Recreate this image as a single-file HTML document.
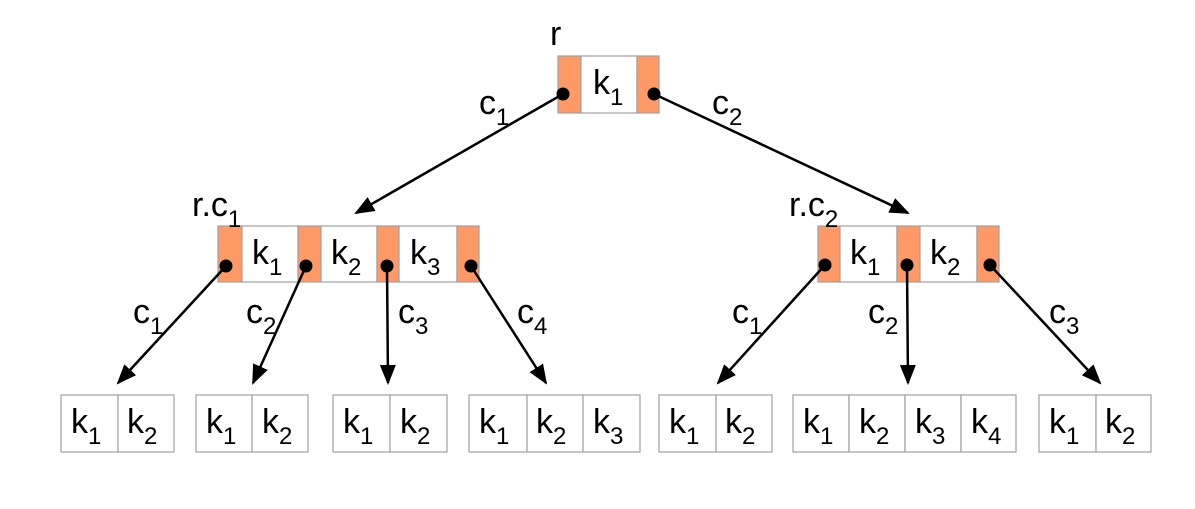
<!DOCTYPE html>
<html><head><meta charset="utf-8"><style>
html,body{margin:0;padding:0;background:#fff;}
svg{display:block;}
text{font-family:"Liberation Sans",Arial,sans-serif;fill:#000;}
.k{font-size:34px;}
.s{font-size:24px;}
</style></head><body>
<svg width="1195" height="509" viewBox="0 0 1195 509" xmlns="http://www.w3.org/2000/svg">
<defs>
<marker id="a" markerWidth="20" markerHeight="16" refX="18" refY="8" orient="auto" markerUnits="userSpaceOnUse">
<path d="M0,0 L20,8 L0,16 Z" fill="#000"/>
</marker>
</defs>
<g stroke="#a0a0a0" stroke-width="1.2">
<rect x="558" y="56" width="23" height="57" fill="#ff9966"/>
<rect x="581" y="56" width="56" height="57" fill="#fff"/>
<rect x="637" y="56" width="22" height="57" fill="#ff9966"/>
<rect x="218" y="226" width="24" height="56" fill="#ff9966"/>
<rect x="242" y="226" width="56" height="56" fill="#fff"/>
<rect x="298" y="226" width="23" height="56" fill="#ff9966"/>
<rect x="321" y="226" width="56" height="56" fill="#fff"/>
<rect x="377" y="226" width="22" height="56" fill="#ff9966"/>
<rect x="399" y="226" width="58" height="56" fill="#fff"/>
<rect x="457" y="226" width="22" height="56" fill="#ff9966"/>
<rect x="818" y="226" width="22" height="56" fill="#ff9966"/>
<rect x="840" y="226" width="57" height="56" fill="#fff"/>
<rect x="897" y="226" width="23" height="56" fill="#ff9966"/>
<rect x="920" y="226" width="57" height="56" fill="#fff"/>
<rect x="977" y="226" width="22" height="56" fill="#ff9966"/>
<g fill="#fff">
<rect x="61" y="395" width="57" height="57"/><rect x="118" y="395" width="56" height="57"/>
<rect x="196" y="395" width="56" height="57"/><rect x="252" y="395" width="56" height="57"/>
<rect x="333" y="395" width="57" height="57"/><rect x="390" y="395" width="57" height="57"/>
<rect x="469" y="395" width="58" height="57"/><rect x="527" y="395" width="56" height="57"/><rect x="583" y="395" width="57" height="57"/>
<rect x="659" y="395" width="57" height="57"/><rect x="716" y="395" width="56" height="57"/>
<rect x="793" y="395" width="56" height="57"/><rect x="849" y="395" width="56" height="57"/><rect x="905" y="395" width="56" height="57"/><rect x="961" y="395" width="55" height="57"/>
<rect x="1039" y="395" width="57" height="57"/><rect x="1096" y="395" width="55" height="57"/>
</g>
</g>
<g stroke="#000" stroke-width="2.5" fill="none" marker-end="url(#a)">
<line x1="563" y1="94" x2="356" y2="213"/>
<line x1="654" y1="94" x2="908" y2="213"/>
<line x1="226" y1="266" x2="118" y2="383"/>
<line x1="306" y1="266" x2="253" y2="383"/>
<line x1="387" y1="266" x2="388" y2="383"/>
<line x1="471" y1="266" x2="546" y2="383"/>
<line x1="825" y1="265" x2="718" y2="383"/>
<line x1="907" y1="265" x2="908" y2="383"/>
<line x1="990" y1="265" x2="1100" y2="383"/>
</g>
<g fill="#000">
<circle cx="563" cy="94" r="6.5"/><circle cx="654" cy="94" r="6.5"/>
<circle cx="226" cy="266" r="6.5"/><circle cx="306" cy="266" r="6.5"/><circle cx="387" cy="266" r="6.5"/><circle cx="471" cy="266" r="6.5"/>
<circle cx="825" cy="265" r="6.5"/><circle cx="907" cy="265" r="6.5"/><circle cx="990" cy="265" r="6.5"/>
</g>
<g class="k">
<text x="593" y="94">k<tspan class="s" dy="11">1</tspan></text>
<text x="252" y="264">k<tspan class="s" dy="11">1</tspan></text>
<text x="331" y="264">k<tspan class="s" dy="11">2</tspan></text>
<text x="410" y="264">k<tspan class="s" dy="11">3</tspan></text>
<text x="850" y="264">k<tspan class="s" dy="11">1</tspan></text>
<text x="930" y="264">k<tspan class="s" dy="11">2</tspan></text>
<text x="71" y="433">k<tspan class="s" dy="11">1</tspan></text>
<text x="127" y="433">k<tspan class="s" dy="11">2</tspan></text>
<text x="206" y="433">k<tspan class="s" dy="11">1</tspan></text>
<text x="262" y="433">k<tspan class="s" dy="11">2</tspan></text>
<text x="343" y="433">k<tspan class="s" dy="11">1</tspan></text>
<text x="400" y="433">k<tspan class="s" dy="11">2</tspan></text>
<text x="479" y="433">k<tspan class="s" dy="11">1</tspan></text>
<text x="536" y="433">k<tspan class="s" dy="11">2</tspan></text>
<text x="593" y="433">k<tspan class="s" dy="11">3</tspan></text>
<text x="669" y="433">k<tspan class="s" dy="11">1</tspan></text>
<text x="725" y="433">k<tspan class="s" dy="11">2</tspan></text>
<text x="803" y="433">k<tspan class="s" dy="11">1</tspan></text>
<text x="859" y="433">k<tspan class="s" dy="11">2</tspan></text>
<text x="915" y="433">k<tspan class="s" dy="11">3</tspan></text>
<text x="971" y="433">k<tspan class="s" dy="11">4</tspan></text>
<text x="1049" y="433">k<tspan class="s" dy="11">1</tspan></text>
<text x="1105" y="433">k<tspan class="s" dy="11">2</tspan></text>
<text x="550" y="45">r</text>
<text x="479" y="114">c<tspan class="s" dy="11">1</tspan></text>
<text x="712" y="114">c<tspan class="s" dy="11">2</tspan></text>
<text x="192" y="216">r.c<tspan class="s" dy="11">1</tspan></text>
<text x="789" y="216">r.c<tspan class="s" dy="11">2</tspan></text>
<text x="133" y="323">c<tspan class="s" dy="11">1</tspan></text>
<text x="246" y="323">c<tspan class="s" dy="11">2</tspan></text>
<text x="398" y="323">c<tspan class="s" dy="11">3</tspan></text>
<text x="517" y="323">c<tspan class="s" dy="11">4</tspan></text>
<text x="732" y="323">c<tspan class="s" dy="11">1</tspan></text>
<text x="868" y="323">c<tspan class="s" dy="11">2</tspan></text>
<text x="1049" y="323">c<tspan class="s" dy="11">3</tspan></text>
</g>
</svg>
</body></html>
